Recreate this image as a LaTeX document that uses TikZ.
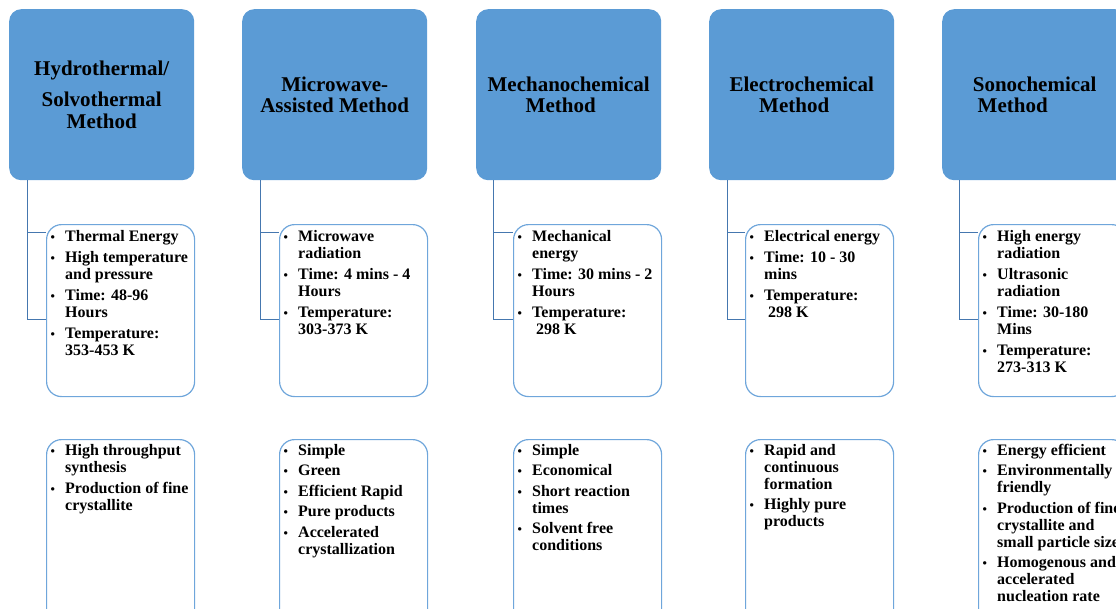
\documentclass[tikz,border=0pt]{standalone}
\usepackage{fontspec}
\setmainfont{Liberation Serif}
\definecolor{headblue}{HTML}{5B9BD5}
\definecolor{edgeblue}{HTML}{6FA6DB}
\definecolor{linkblue}{HTML}{4577AF}
\newcommand{\bl}{\makebox[15.5pt][l]{\hspace{1pt}{\fontsize{12.5}{12.5}\selectfont\textbullet}}}
\newcommand{\blist}[1]{\begin{tabular}[t]{@{}l@{}l@{}}#1\end{tabular}}
\begin{document}
\begin{tikzpicture}[x=1pt,y=-1pt,
  head/.style={anchor=north west,fill=headblue,rounded corners=12pt,minimum width=185pt,minimum height=171pt,inner sep=0pt,align=center,font=\fontsize{21}{21.5}\selectfont\bfseries},
  infobox/.style={anchor=north west,draw=edgeblue,line width=1.2pt,fill=white,rounded corners=15pt,minimum width=148pt,inner sep=0pt},
  list/.style={anchor=base west,inner sep=0pt,font=\fontsize{16}{17}\selectfont\bfseries},
  conn/.style={draw=linkblue,line width=1pt}]
\useasboundingbox (0,0) rectangle (1116,608);
\clip (0,0) rectangle (1116,608);
% headers
\node[head] (h1) at (9,9) {Hydrothermal/\\[9.5pt]Solvothermal\\Method};
\node[head] (h2) at (242,9) {Microwave-\\Assisted Method};
\node[head] (h3) at (476,9) {Mechanochemical\\Method\kern16pt};
\node[head] (h4) at (709,9) {Electrochemical\\Method\kern15pt};
\node[head] (h5) at (942,9) {Sonochemical\\Method\kern44pt};
% middle boxes
\node[infobox,minimum height=172pt] (m1) at (46,224) {};
\node[infobox,minimum height=172pt] (m2) at (279,224) {};
\node[infobox,minimum height=172pt] (m3) at (513,224) {};
\node[infobox,minimum height=172pt] (m4) at (745,224) {};
\node[infobox,minimum height=172pt] (m5) at (978,224) {};
% bottom boxes
\node[infobox,minimum height=190pt] (b1) at (46,439) {};
\node[infobox,minimum height=190pt] (b2) at (279,439) {};
\node[infobox,minimum height=190pt] (b3) at (513,439) {};
\node[infobox,minimum height=190pt] (b4) at (745,439) {};
\node[infobox,minimum height=190pt] (b5) at (978,439) {};
% connectors
\draw[conn] ([xshift=18pt]h1.south west) |- ([yshift=-8pt]m1.north west);
\draw[conn] ([xshift=18pt]h1.south west) |- ([yshift=-95pt]m1.north west);
\draw[conn] ([xshift=18pt]h2.south west) |- ([yshift=-8pt]m2.north west);
\draw[conn] ([xshift=18pt]h2.south west) |- ([yshift=-95pt]m2.north west);
\draw[conn] ([xshift=17pt]h3.south west) |- ([yshift=-8pt]m3.north west);
\draw[conn] ([xshift=17pt]h3.south west) |- ([yshift=-95pt]m3.north west);
\draw[conn] ([xshift=18pt]h4.south west) |- ([yshift=-8pt]m4.north west);
\draw[conn] ([xshift=18pt]h4.south west) |- ([yshift=-95pt]m4.north west);
\draw[conn] ([xshift=17pt]h5.south west) |- ([yshift=-8pt]m5.north west);
\draw[conn] ([xshift=17pt]h5.south west) |- ([yshift=-95pt]m5.north west);
% texts of the middle boxes
\node[list] (tm1) at ([shift={(3.5pt,-17pt)}]m1.north west) {\blist{\bl & Thermal Energy\\[4pt]
  \bl & High temperature\\ & and pressure\\[4pt]
  \bl & Time: 48-96\\ & Hours\\[4pt]
  \bl & Temperature:\\ & 353-453 K}};
\node[list] (tm2) at ([shift={(3.5pt,-17pt)}]m2.north west) {\blist{\bl & Microwave\\ & radiation\\[4pt]
  \bl & Time: 4 mins - 4\\ & Hours\\[4pt]
  \bl & Temperature:\\ & 303-373 K}};
\node[list] (tm3) at ([shift={(3.5pt,-17pt)}]m3.north west) {\blist{\bl & Mechanical\\ & energy\\[4pt]
  \bl & Time: 30 mins - 2\\ & Hours\\[4pt]
  \bl & Temperature:\\ & \hspace*{4pt}298 K}};
\node[list] (tm4) at ([shift={(3.5pt,-17pt)}]m4.north west) {\blist{\bl & Electrical energy\\[4pt]
  \bl & Time: 10 - 30\\ & mins\\[4pt]
  \bl & Temperature:\\ & \hspace*{4pt}298 K}};
\node[list] (tm5) at ([shift={(3.5pt,-17pt)}]m5.north west) {\blist{\bl & High energy\\ & radiation\\[4pt]
  \bl & Ultrasonic\\ & radiation\\[4pt]
  \bl & Time: 30-180\\ & Mins\\[4pt]
  \bl & Temperature:\\ & 273-313 K}};
% texts of the bottom boxes
\node[list] (tb1) at ([shift={(3.5pt,-16pt)}]b1.north west) {\blist{\bl & High throughput\\ & synthesis\\[4pt]
  \bl & Production of fine\\ & crystallite}};
\node[list] (tb2) at ([shift={(3.5pt,-16pt)}]b2.north west) {\blist{\bl & Simple\\[3.5pt]
  \bl & Green\\[3.5pt]
  \bl & Efficient Rapid\\[3.5pt]
  \bl & Pure products\\[3.5pt]
  \bl & Accelerated\\ & crystallization}};
\node[list] (tb3) at ([shift={(3.5pt,-16pt)}]b3.north west) {\blist{\bl & Simple\\[3.5pt]
  \bl & Economical\\[3.5pt]
  \bl & Short reaction\\ & times\\[3.5pt]
  \bl & Solvent free\\ & conditions}};
\node[list] (tb4) at ([shift={(3.5pt,-16pt)}]b4.north west) {\blist{\bl & Rapid and\\ & continuous\\ & formation\\[3.5pt]
  \bl & Highly pure\\ & products}};
\node[list] (tb5) at ([shift={(3.5pt,-16pt)}]b5.north west) {\blist{\bl & Energy efficient\\[3.5pt]
  \bl & Environmentally\\ & friendly\\[3.5pt]
  \bl & Production of fine\\ & crystallite and\\ & small particle size\\[3.5pt]
  \bl & Homogenous and\\ & accelerated\\ & nucleation rate}};
\end{tikzpicture}
\end{document}
